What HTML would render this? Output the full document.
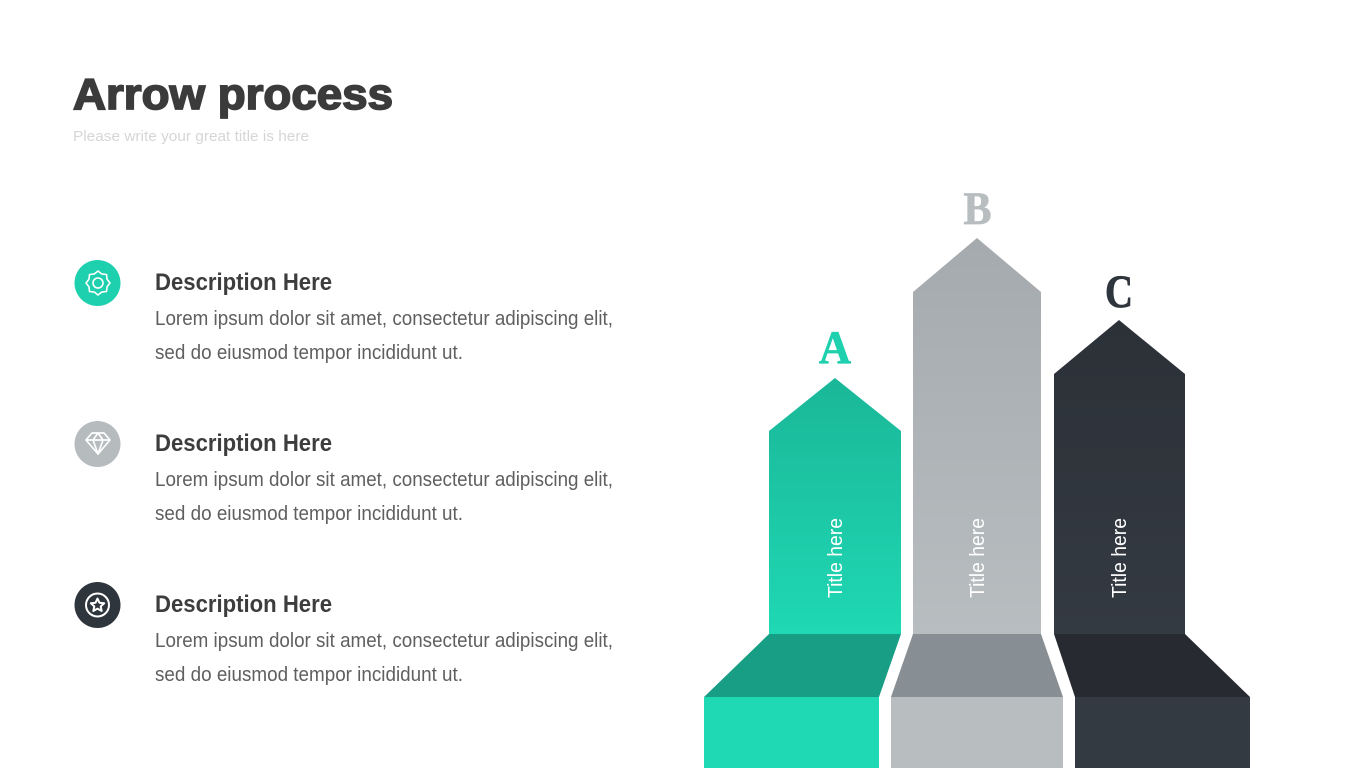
<!DOCTYPE html>
<html>
<head>
<meta charset="utf-8">
<style>
html,body{margin:0;padding:0;background:#fff;width:1365px;height:768px;overflow:hidden}
svg{display:block}
text{font-family:"Liberation Sans",sans-serif}
.d{font-size:24px;font-weight:bold;fill:#3d3d3d}
.b{font-size:20px;fill:#5f5f5f}
.l{font-family:"Liberation Serif",serif;font-size:47px;font-weight:bold;text-anchor:middle;stroke-width:.8}
.t{font-size:20px;fill:#fff}
</style>
</head>
<body>
<svg width="1365" height="768" viewBox="0 0 1365 768" xmlns="http://www.w3.org/2000/svg">
<defs>
<linearGradient id="ga" x1="0" y1="0" x2="0" y2="1"><stop offset="0" stop-color="#1ab798"/><stop offset="1" stop-color="#1fd8b4"/></linearGradient>
<linearGradient id="gb" x1="0" y1="0" x2="0" y2="1"><stop offset="0" stop-color="#a5aaae"/><stop offset="1" stop-color="#b8bdc0"/></linearGradient>
<linearGradient id="gc" x1="0" y1="0" x2="0" y2="1"><stop offset="0" stop-color="#2c3138"/><stop offset="1" stop-color="#343a42"/></linearGradient>
</defs>

<text x="73" y="109" font-size="44" font-weight="bold" fill="#3b3b3b" stroke="#3b3b3b" stroke-width="1.7" textLength="320" lengthAdjust="spacingAndGlyphs">Arrow process</text>
<text x="73" y="141" font-size="15" fill="#d6d6d6" textLength="236" lengthAdjust="spacingAndGlyphs">Please write your great title is here</text>

<circle cx="97.5" cy="283" r="23" fill="#1fd0ae"/>
<g fill="none" stroke="#fff" stroke-width="1.6" stroke-linejoin="round">
<circle cx="98" cy="283" r="5"/>
<path d="M110 283L107.050 286.750 106.500 291.500 101.750 292.050 98 295 94.250 292.050 89.500 291.500 88.950 286.750 86 283 88.950 279.250 89.500 274.500 94.250 273.950 98 271 101.750 273.950 106.500 274.500 107.050 279.250Z"/>
</g>

<circle cx="97.5" cy="444" r="23" fill="#b6bbbe"/>
<g fill="none" stroke="#fff" stroke-width="1.7" stroke-linejoin="round">
<path d="M92 433h12l6 7-12 14-12-14z"/>
<path d="M86 440h24M93 440l5 14 5-14-5-7-5 7"/>
</g>

<circle cx="97.5" cy="605" r="23" fill="#2f353d"/>
<g fill="none" stroke="#fff" stroke-linejoin="round">
<circle cx="97.500" cy="605" r="11.500" stroke-width="2"/>
<path d="M97.500 598.500l2 4.300 4.700.5-3.500 3.100 1 4.600-4.200-2.400-4.200 2.400 1-4.600-3.500-3.100 4.700-.5z" stroke-width="2"/>
</g>

<text class="d" x="155" y="290" textLength="177" lengthAdjust="spacingAndGlyphs">Description Here</text>
<text class="b" x="155" y="325" textLength="458" lengthAdjust="spacingAndGlyphs">Lorem ipsum dolor sit amet, consectetur adipiscing elit,</text>
<text class="b" x="155" y="359" textLength="308" lengthAdjust="spacingAndGlyphs">sed do eiusmod tempor incididunt ut.</text>

<text class="d" x="155" y="451" textLength="177" lengthAdjust="spacingAndGlyphs">Description Here</text>
<text class="b" x="155" y="486" textLength="458" lengthAdjust="spacingAndGlyphs">Lorem ipsum dolor sit amet, consectetur adipiscing elit,</text>
<text class="b" x="155" y="520" textLength="308" lengthAdjust="spacingAndGlyphs">sed do eiusmod tempor incididunt ut.</text>

<text class="d" x="155" y="612" textLength="177" lengthAdjust="spacingAndGlyphs">Description Here</text>
<text class="b" x="155" y="647" textLength="458" lengthAdjust="spacingAndGlyphs">Lorem ipsum dolor sit amet, consectetur adipiscing elit,</text>
<text class="b" x="155" y="681" textLength="308" lengthAdjust="spacingAndGlyphs">sed do eiusmod tempor incididunt ut.</text>

<polygon points="835,378 901,431 901,634 769,634 769,431" fill="url(#ga)"/>
<polygon points="977,238 1041,292 1041,634 913,634 913,292" fill="url(#gb)"/>
<polygon points="1119,320 1185,374 1185,634 1054,634 1054,374" fill="url(#gc)"/>

<polygon points="769,634 901,634 879,697 704,697" fill="#179e84"/>
<polygon points="913,634 1041,634 1063,697 891,697" fill="#878e94"/>
<polygon points="1054,634 1185,634 1250,697 1075,697" fill="#272b31"/>

<rect x="704" y="697" width="175" height="71" fill="#1fd8b4"/>
<rect x="891" y="697" width="172" height="71" fill="#b8bdc0"/>
<rect x="1075" y="697" width="175" height="71" fill="#343a42"/>

<text class="l" x="835" y="363" fill="#1fd0ae" stroke="#1fd0ae" textLength="32" lengthAdjust="spacingAndGlyphs">A</text>
<text class="l" x="977.500" y="224" fill="#b8bdc0" stroke="#b8bdc0" textLength="28" lengthAdjust="spacingAndGlyphs">B</text>
<text class="l" x="1119" y="307" fill="#2f353d" stroke="#2f353d" textLength="28" lengthAdjust="spacingAndGlyphs">C</text>

<text class="t" transform="translate(842,598) rotate(-90)" textLength="80" lengthAdjust="spacingAndGlyphs">Title here</text>
<text class="t" transform="translate(984,598) rotate(-90)" textLength="80" lengthAdjust="spacingAndGlyphs">Title here</text>
<text class="t" transform="translate(1126,598) rotate(-90)" textLength="80" lengthAdjust="spacingAndGlyphs">Title here</text>
</svg>
</body>
</html>
